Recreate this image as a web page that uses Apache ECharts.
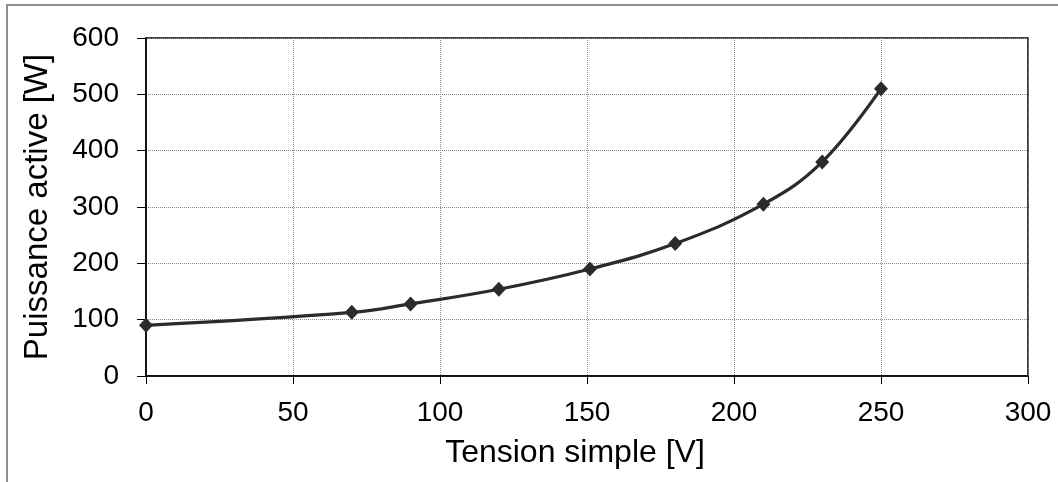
<!DOCTYPE html>
<html>
<head>
<meta charset="utf-8">
<script src="https://cdn.jsdelivr.net/npm/echarts@6/dist/echarts.min.js"></script>
<style>
  html, body { margin: 0; padding: 0; background: #fff; overflow: hidden; }
  #wrap { position: relative; width: 1058px; height: 482px; overflow: hidden; }
  #frame { position: absolute; left: 6px; top: 4px; width: 3000px; height: 3000px;
           border-top: 2px solid #8f8f8f; border-left: 2px solid #8f8f8f; }
  #chart { position: absolute; left: 0; top: 0; width: 1058px; height: 482px; }
</style>
</head>
<body>
<div id="wrap">
  <div id="frame"></div>
  <div id="chart"></div>
</div>
<script>
// mesures : tension simple (V) / puissance active (W)
const tension = [0, 70, 90, 120, 151, 180, 210, 230, 250];
const puissance = [90, 113, 128, 154, 190, 235, 305, 380, 510];
const xTicks = [0, 50, 100, 150, 200, 250, 300];
const yTicks = [0, 100, 200, 300, 400, 500, 600];

const font = 'Liberation Sans, Arial, sans-serif';
const chart = echarts.init(document.getElementById('chart'), null, { renderer: 'canvas' });

const option = {
  animation: false,
  backgroundColor: 'transparent',
  grid: {
    left: 146, top: 38, right: 30, bottom: 106,
    show: true, borderColor: '#000', borderWidth: 1.5, backgroundColor: 'transparent'
  },
  xAxis: {
    type: 'value',
    min: xTicks[0], max: xTicks[xTicks.length - 1], interval: 50,
    name: 'Tension simple [V]',
    nameLocation: 'middle',
    nameGap: 61,
    nameTextStyle: { fontFamily: font, fontSize: 32, color: '#000', padding: [0, 24, 0, 0] },
    axisLine: { lineStyle: { color: '#000', width: 1.5 } },
    axisTick: { show: true, inside: false, length: 8, lineStyle: { color: '#000' } },
    axisLabel: { fontFamily: font, fontSize: 28, color: '#000', margin: 23 },
    splitLine: { show: true, lineStyle: { color: '#8c8c8c', width: 1, type: [1, 1] } }
  },
  yAxis: {
    type: 'value',
    min: yTicks[0], max: yTicks[yTicks.length - 1], interval: 100,
    name: 'Puissance active [W]',
    nameLocation: 'middle',
    nameGap: 92,
    nameTextStyle: { fontFamily: font, fontSize: 33, color: '#000' },
    axisLine: { show: true, lineStyle: { color: '#000', width: 1.5 } },
    axisTick: { show: true, inside: false, length: 9, lineStyle: { color: '#000' } },
    axisLabel: { fontFamily: font, fontSize: 28, color: '#000', margin: 27 },
    splitLine: { show: true, lineStyle: { color: '#8c8c8c', width: 1, type: [1, 1] } }
  },
  series: [{
    type: 'line',
    data: tension.map((v, i) => [v, puissance[i]]),
    smooth: 0.4,
    symbol: 'diamond',
    symbolSize: [14, 15],
    itemStyle: { color: '#2b2b2b' },
    lineStyle: { color: '#2b2b2b', width: 3.2 }
  }]
};
chart.setOption(option);
</script>
</body>
</html>
